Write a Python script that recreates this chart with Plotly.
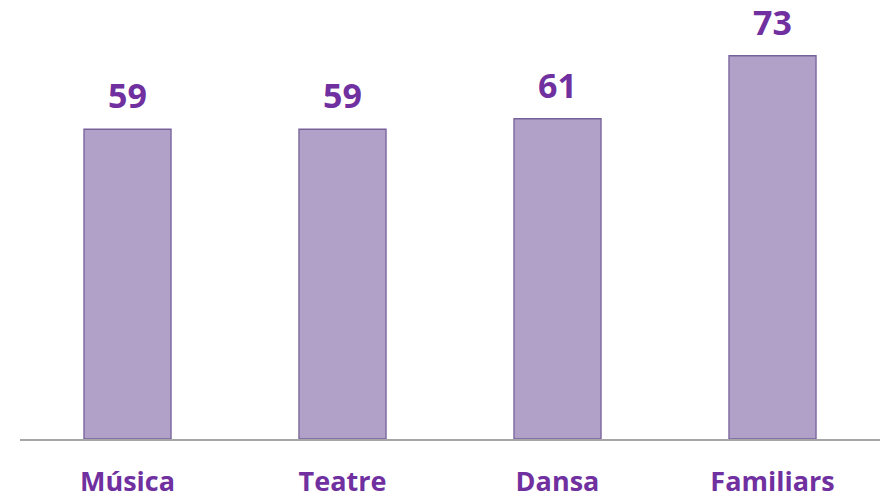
import plotly.graph_objects as go

categories = ["Música", "Teatre", "Dansa", "Familiars"]
values = [59, 59, 61, 73]

purple_text = "#7030A0"
bar_fill = "#B1A0C7"
bar_line = "#76629A"

fig = go.Figure()
fig.add_trace(go.Bar(
    x=categories, y=values,
    marker=dict(color=bar_fill, line=dict(color=bar_line, width=1.3)),
    width=0.405,
    hoverinfo="skip",
))

for c, v in zip(categories, values):
    fig.add_annotation(x=c, y=v, text=f"<b>{v}</b>", showarrow=False,
                       yanchor="bottom", yshift=9,
                       font=dict(family="Open Sans", size=34, color=purple_text))

fig.update_layout(
    width=889, height=490,
    margin=dict(l=12, r=17, t=0, b=59),
    plot_bgcolor="white", paper_bgcolor="white",
    showlegend=False,
    xaxis=dict(showgrid=False, showline=True, linecolor="#A6A6A6", linewidth=1.5,
               ticks="", tickfont=dict(family="Open Sans", size=27, color=purple_text),
               ticklabelstandoff=18, tickprefix="<b>", ticksuffix="</b>"),
    yaxis=dict(range=[0, 82.1], visible=False, showgrid=False),
)

fig.write_html("out.html")
